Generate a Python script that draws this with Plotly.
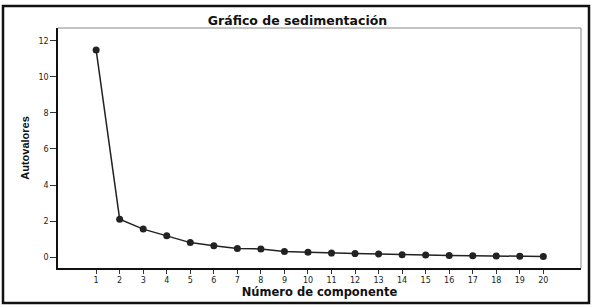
import plotly.graph_objects as go

componentes = list(range(1, 21))
autovalores = [11.5, 2.1, 1.55, 1.18, 0.8, 0.63, 0.48, 0.45, 0.31, 0.27,
               0.22, 0.19, 0.17, 0.13, 0.11, 0.08, 0.07, 0.05, 0.04, 0.03]
y_ticks = [0, 2, 4, 6, 8, 10, 12]

fig = go.Figure()
fig.add_trace(go.Scatter(
    x=componentes, y=autovalores, mode="lines+markers",
    line=dict(color="#222222", width=1.5),
    marker=dict(color="#222222", size=7),
    showlegend=False, cliponaxis=False,
))

L, R, T, B = 58, 14, 28, 40
W, H = 595, 308
pw, ph = W - L - R, H - T - B

fig.update_layout(
    width=W, height=H,
    margin=dict(l=L, r=R, t=T, b=B, autoexpand=False),
    paper_bgcolor="white", plot_bgcolor="white",
    font=dict(family="DejaVu Sans, sans-serif", color="#111111"),
    title=dict(text="<b>Gráfico de sedimentación</b>", x=0.5, xanchor="center",
               y=1 - 21 / H, yanchor="middle", font=dict(size=12.5, color="#111111")),
    xaxis=dict(
        range=[-0.62, 21.6], tickmode="array", tickvals=componentes,
        ticktext=[str(c) for c in componentes], automargin=False,
        showgrid=False, zeroline=False, showline=True, linecolor="#111111",
        linewidth=1.5, ticks="outside", ticklen=4, tickcolor="#333333",
        tickfont=dict(size=8, color="#222222"),
        title=dict(text="<b>Número de componente</b>", font=dict(size=11.5, color="#111111"),
                   standoff=2),
    ),
    yaxis=dict(
        range=[-0.61, 12.72], tickmode="array", tickvals=y_ticks, automargin=False,
        showgrid=False, zeroline=False, showline=True, linecolor="#111111",
        linewidth=1.5, ticks="outside", ticklen=6, tickcolor="#333333",
        tickfont=dict(size=8, color="#222222"),
        title=dict(text="<b>Autovalores</b>", font=dict(size=11, family="Liberation Sans Narrow, Liberation Sans, sans-serif",
                   color="#111111"), standoff=7),
    ),
)

# plot frame (gray top and right)
fig.add_shape(type="line", xref="paper", yref="paper", x0=0, x1=1, y0=1, y1=1,
              line=dict(color="#888888", width=1))
fig.add_shape(type="line", xref="paper", yref="paper", x0=1, x1=1, y0=0, y1=1,
              line=dict(color="#888888", width=1))

# outer border
bx0, bx1, by0, by1 = 3, 589, 6, 303
fig.add_shape(type="rect", xref="paper", yref="paper",
              x0=(bx0 - L) / pw, x1=(bx1 - L) / pw,
              y0=(H - B - by1) / ph, y1=(H - B - by0) / ph,
              line=dict(color="#111111", width=2.5), fillcolor="rgba(0,0,0,0)", layer="above")

fig.write_html("out.html", config={"displayModeBar": False},
               post_script="document.body.style.margin='0';document.body.style.overflow='hidden';")
